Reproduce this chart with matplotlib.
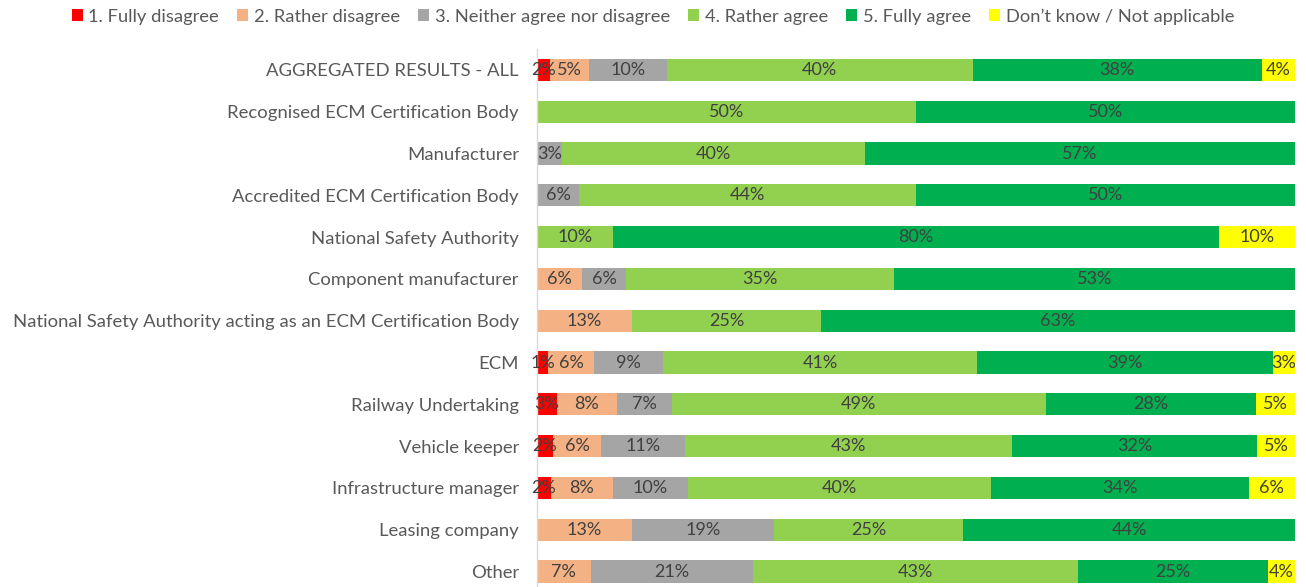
import matplotlib
matplotlib.use("Agg")
import matplotlib.pyplot as plt
import numpy as np

plt.rcParams['font.family'] = ['Lato', 'DejaVu Sans']

categories = [
    "AGGREGATED RESULTS - ALL",
    "Recognised ECM Certification Body",
    "Manufacturer",
    "Accredited ECM Certification Body",
    "National Safety Authority",
    "Component manufacturer",
    "National Safety Authority acting as an ECM Certification Body",
    "ECM",
    "Railway Undertaking",
    "Vehicle keeper",
    "Infrastructure manager",
    "Leasing company",
    "Other",
]

series_names = ["1. Fully disagree", "2. Rather disagree", "3. Neither agree nor disagree",
                "4. Rather agree", "5. Fully agree", "Don\u2019t know / Not applicable"]

fully_disagree = [1.7, 0, 0, 0, 0, 0, 0, 1.45, 2.6, 2.1, 1.8, 0, 0]
rather_disagree = [5.1, 0, 0, 0, 0, 5.9, 12.5, 6.1, 7.9, 6.4, 8.2, 12.5, 7.1]
neither = [10.3, 0, 3.3, 5.6, 0, 5.9, 0, 9.1, 7.3, 11.0, 9.9, 18.75, 21.4]
rather_agree = [40.4, 50, 40.0, 44.4, 10, 35.3, 25, 41.4, 49.3, 43.1, 40.0, 25, 42.9]
fully_agree = [38.1, 50, 56.7, 50.0, 80, 52.9, 62.5, 39.0, 27.8, 32.4, 34.0, 43.75, 25.0]
dont_know = [4.4, 0, 0, 0, 10, 0, 0, 2.95, 5.1, 5.0, 6.1, 0, 3.6]

colors = ["#FF0000", "#F4B183", "#A5A5A5", "#92D050", "#00B050", "#FFFF00"]

data = [fully_disagree, rather_disagree, neither, rather_agree, fully_agree, dont_know]

fig = plt.figure(figsize=(13.06, 5.87), dpi=100)
ax = fig.add_axes([0.4112, 0.0, 0.5804, 0.9165])

y = np.arange(len(categories))
left = np.zeros(len(categories))
handles = []
for name, vals, col in zip(series_names, data, colors):
    vals = np.array(vals, dtype=float)
    bars = ax.barh(y, vals, left=left, height=0.53, color=col, label=name,
                   edgecolor='none')
    handles.append(bars)
    for yi, (l, v) in enumerate(zip(left, vals)):
        if v > 0:
            ax.text(l + v / 2, yi, f"{int(np.floor(v + 0.5))}%", ha='center', va='center',
                    fontsize=13, color='#404040')
    left += vals

ax.set_xlim(0, 100)
ax.set_ylim(12.37, -0.5)
ax.set_yticks(y)
ax.set_yticklabels(categories, fontsize=13.3, color='#595959')
ax.tick_params(axis='y', length=0, pad=13)
ax.set_xticks([])
for s in ['top', 'right', 'bottom']:
    ax.spines[s].set_visible(False)
ax.spines['left'].set_color('#D9D9D9')
ax.spines['left'].set_linewidth(1)

leg = fig.legend(handles=handles, labels=series_names, loc='upper center',
                 bbox_to_anchor=(0.5, 1.014), ncol=6, frameon=False,
                 fontsize=13.2, handlelength=0.6, handleheight=0.6,
                 handletextpad=0.3, columnspacing=1.0)
for t in leg.get_texts():
    t.set_color('#595959')

fig.savefig("out.png", dpi=100)
